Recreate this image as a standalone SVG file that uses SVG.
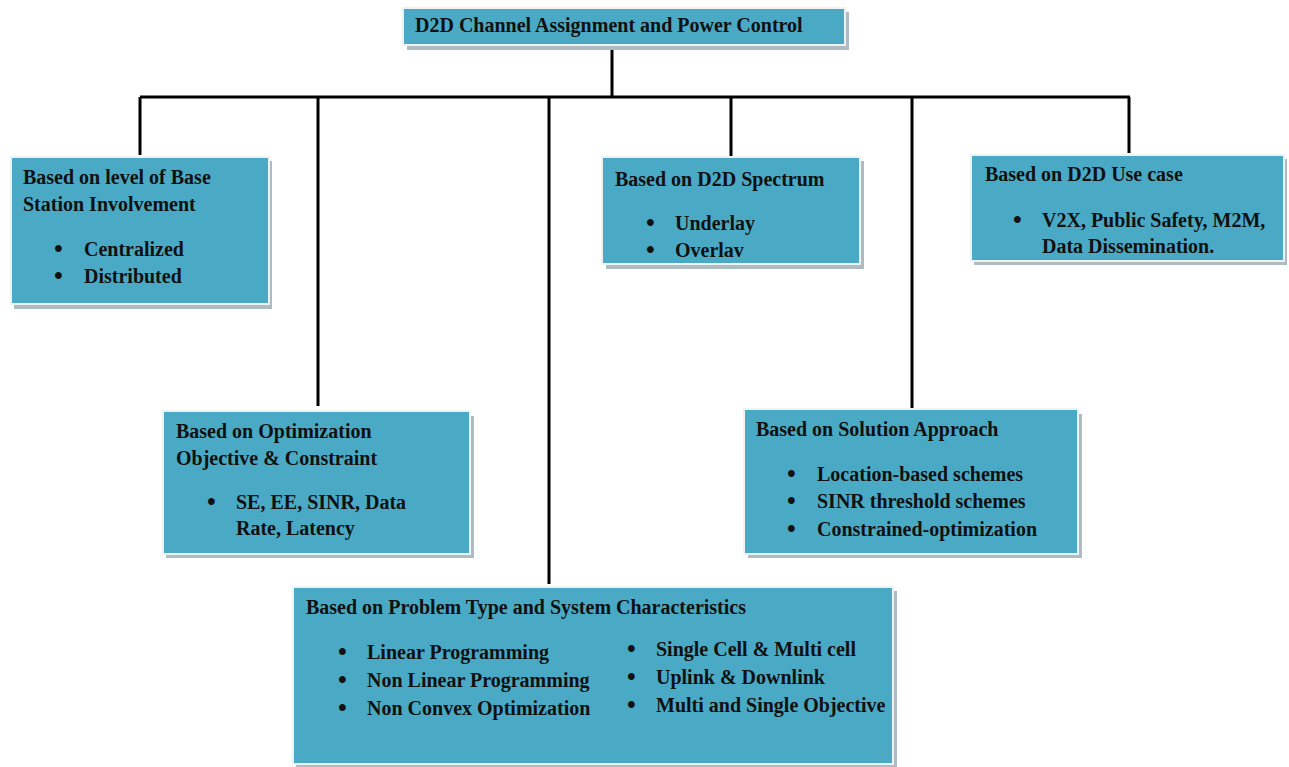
<svg xmlns="http://www.w3.org/2000/svg" width="1289" height="767" viewBox="0 0 1289 767">
<style>
.box{fill:#4aaac5;stroke:#eef2f3;stroke-width:2}
.sh{fill:#aebcc2}
.t{font-family:"Liberation Serif","Times New Roman",serif;font-weight:bold;font-size:20px;fill:#111}
.b{font-family:"Liberation Serif","Times New Roman",serif;font-weight:bold;font-size:25px;fill:#111}
.ln{stroke:#000;stroke-width:3;fill:none}
</style>
<rect width="1289" height="767" fill="#fff"/>
<g id="connectors">
<path class="ln" d="M612 45V97M140 97H1130M140 97V155M318 97V406M549 97V584M731 97V156M912 97V408M1129 97V153"/>
</g>
<g id="root">
<rect class="sh" x="407" y="12" width="442" height="38"/>
<rect class="box" x="403" y="8" width="442" height="37"/>
<text class="t" x="415" y="32">D2D Channel  Assignment  and Power Control</text>
</g>
<g id="base-station">
<rect class="sh" x="14" y="161" width="258" height="148"/>
<rect class="box" x="11" y="157" width="258" height="147"/>
<text class="t" x="23" y="184">Based on level of Base</text>
<text class="t" x="23" y="211">Station Involvement</text>
<text class="b" x="54" y="257">•</text><text class="t" x="84" y="256">Centralized</text>
<text class="b" x="54" y="284">•</text><text class="t" x="84" y="283">Distributed</text>
</g>
<g id="spectrum">
<rect class="sh" x="606" y="161" width="258" height="108"/>
<rect class="box" x="602" y="157" width="258" height="107"/>
<text class="t" x="615" y="186">Based on D2D Spectrum</text>
<text class="b" x="646" y="231">•</text><text class="t" x="675" y="230">Underlay</text>
<text class="b" x="646" y="258">•</text><text class="t" x="675" y="257">Overlav</text>
</g>
<g id="use-case">
<rect class="sh" x="974" y="159" width="313" height="106"/>
<rect class="box" x="971" y="155" width="313" height="106"/>
<text class="t" x="985" y="181">Based on D2D Use case</text>
<text class="b" x="1013" y="228">•</text><text class="t" x="1042" y="227">V2X, Public Safety, M2M,</text>
<text class="t" x="1042" y="253">Data Dissemination.</text>
</g>
<g id="optimization">
<rect class="sh" x="166" y="416" width="308" height="142"/>
<rect class="box" x="163" y="411" width="307" height="143"/>
<text class="t" x="176" y="438">Based on Optimization</text>
<text class="t" x="176" y="465">Objective &amp; Constraint</text>
<text class="b" x="207" y="510">•</text><text class="t" x="236" y="509">SE, EE, SINR, Data</text>
<text class="t" x="236" y="535">Rate, Latency</text>
</g>
<g id="solution">
<rect class="sh" x="748" y="414" width="334" height="144"/>
<rect class="box" x="744" y="409" width="334" height="145"/>
<text class="t" x="756" y="436">Based on Solution Approach</text>
<text class="b" x="787" y="482">•</text><text class="t" x="817" y="481">Location-based schemes</text>
<text class="b" x="787" y="509">•</text><text class="t" x="817" y="508">SINR threshold schemes</text>
<text class="b" x="787" y="537">•</text><text class="t" x="817" y="536">Constrained-optimization</text>
</g>
<g id="problem-type">
<rect class="sh" x="296" y="591" width="601" height="176"/>
<rect class="box" x="293" y="587" width="600" height="177"/>
<text class="t" x="306" y="614">Based on Problem Type and System Characteristics</text>
<text class="b" x="338" y="660">•</text><text class="t" x="367" y="659">Linear Programming</text>
<text class="b" x="338" y="688">•</text><text class="t" x="367" y="687">Non Linear Programming</text>
<text class="b" x="338" y="716">•</text><text class="t" x="367" y="715">Non Convex Optimization</text>
<text class="b" x="627" y="657">•</text><text class="t" x="656" y="656">Single Cell &amp; Multi cell</text>
<text class="b" x="627" y="685">•</text><text class="t" x="656" y="684">Uplink &amp; Downlink</text>
<text class="b" x="627" y="713">•</text><text class="t" x="656" y="712">Multi and Single Objective</text>
</g>
</svg>
